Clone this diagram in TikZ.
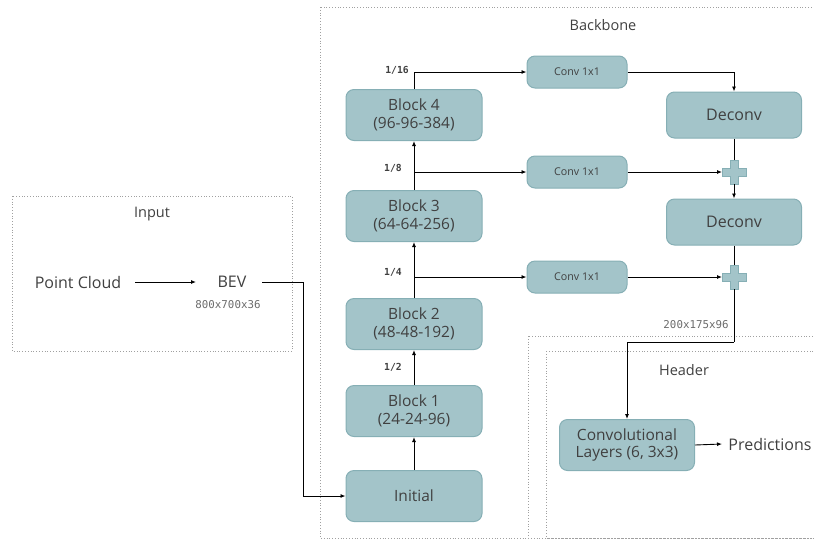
\documentclass[tikz,border=0pt]{standalone}
\usepackage{fontspec}
\setmainfont{Open Sans}
\newfontfamily\monofont{DejaVu Sans Mono}
\usetikzlibrary{arrows.meta,calc}
\definecolor{boxfill}{HTML}{A3C4C9}
\definecolor{boxline}{HTML}{86AFB5}
\definecolor{txt}{HTML}{404040}
\definecolor{framecol}{HTML}{A0A0A0}
\tikzset{
  blk/.style={draw=boxline, fill=boxfill, rounded corners=8pt, line width=1pt,
    text=txt, align=center, font=\fontsize{15.5}{17.5}\selectfont, inner sep=0pt},
  mainblk/.style={blk, minimum width=136pt, minimum height=51pt},
  convsmall/.style={blk, minimum width=100pt, minimum height=32pt, font=\fontsize{10.7}{12}\selectfont},
  deconvblk/.style={blk, minimum width=135pt, minimum height=46pt, font=\fontsize{16}{18}\selectfont},
  plain/.style={text=txt, font=\fontsize{16}{18}\selectfont, inner sep=0pt},
  framelabel/.style={text=txt, font=\fontsize{14.5}{16}\selectfont, inner sep=0pt},
  scalelabel/.style={font=\monofont\bfseries\fontsize{9.7}{11}\selectfont, text=txt, inner sep=0pt},
  dimlabel/.style={font=\monofont\fontsize{10.8}{12}\selectfont, text=black!58, inner sep=0pt},
  frame/.style={draw=framecol, dotted, line width=0.8pt},
  arr/.style={-{Latex[length=5pt,width=4pt]}, line width=0.9pt},
  link/.style={line width=0.9pt},
  plusnode/.style={minimum size=24pt, inner sep=0pt},
}
% plus-shaped adder drawn around a named node
\newcommand{\plusmark}[1]{%
  \path[fill=boxfill, draw=boxline, line width=0.8pt]
    ($(#1)+(-4,-12)$) -- ++(8,0) -- ++(0,8) -- ++(8,0) -- ++(0,8) -- ++(-8,0)
    -- ++(0,8) -- ++(-8,0) -- ++(0,-8) -- ++(-8,0) -- ++(0,-8) -- ++(8,0) -- cycle;}
\begin{document}
\begin{tikzpicture}[x=1pt, y=-1pt]
\useasboundingbox (0,0) rectangle (814,539);
\clip (0,0) rectangle (814,539);

% frames
\draw[frame] (12,196) rectangle (292,351);
\draw[frame] (320,7) rectangle (830,538);
\draw[frame] (528,336) rectangle (830,560);
\draw[frame] (546,351) rectangle (830,538);
\node[framelabel] at (152,214) {Input};
\node[framelabel] at (603,25) {Backbone};
\node[framelabel] at (684,370) {Header};

% input
\node[plain] (pc) at (78,282) {Point Cloud};
\node[plain] (bev) at (232,282) {BEV};
\node[dimlabel] (bevdim) at (228,305) {800x700x36};

% backbone blocks
\node[mainblk] (init) at (414,496) {Initial};
\node[mainblk] (b1) at (414,411) {Block 1\\(24-24-96)};
\node[mainblk] (b2) at (414,324) {Block 2\\(48-48-192)};
\node[mainblk] (b3) at (414,216) {Block 3\\(64-64-256)};
\node[mainblk] (b4) at (414,115) {Block 4\\(96-96-384)};

\node[convsmall] (c1) at (577,72) {Conv 1x1};
\node[convsmall] (c2) at (577,172) {Conv 1x1};
\node[convsmall] (c3) at (577,277) {Conv 1x1};

\node[deconvblk] (d1) at (734,115) {Deconv};
\node[deconvblk] (d2) at (734,222) {Deconv};

\node[plusnode] (p1) at (734,172) {};
\node[plusnode] (p2) at (734,277) {};
\plusmark{p1}
\plusmark{p2}

% header
\node[blk, minimum width=135pt, minimum height=51pt] (cl) at (627,445) {Convolutional\\Layers (6, 3x3)};
\node[plain] (pred) at (770,444) {Predictions};
\node[dimlabel] (featdim) at (696,325) {200x175x96};

% scale labels
\node[scalelabel] at (397,70) {1/16};
\node[scalelabel] at (393,168) {1/8};
\node[scalelabel] at (393,272) {1/4};
\node[scalelabel] at (393,367) {1/2};

% connectors
\coordinate (pcout) at (135,282);
\coordinate (bevin) at (196,282);
\coordinate (bevout) at (262,282);
\coordinate (bevturn) at (303,282);
\coordinate (s8) at (414,172);
\coordinate (s4) at (414,277);
\coordinate (outturn) at (734,342);
\coordinate (predin) at (722,444);

\draw[arr] (pcout) -- (bevin);
\draw[link] (bevout) -- (bevturn);
\draw[arr] (bevturn) |- (init.west);

\draw[arr] (init.north) -- (b1.south);
\draw[arr] (b1.north) -- (b2.south);
\draw[arr] (b2.north) -- (b3.south);
\draw[arr] (b3.north) -- (b4.south);

\draw[arr] (b4.north) |- (c1.west);
\draw[arr] (s8) -- (c2.west);
\draw[arr] (s4) -- (c3.west);

\draw[arr] (c1.east) -| (d1.north);
\draw[arr] (c2.east) -- ($(p1.center)+(-12,0)$);
\draw[arr] (c3.east) -- ($(p2.center)+(-12,0)$);
\draw[link] (d1.south) -- ($(p1.center)+(0,-12)$);
\draw[arr] ($(p1.center)+(0,12)$) -- (d2.north);
\draw[link] (d2.south) -- ($(p2.center)+(0,-12)$);
\draw[link] ($(p2.center)+(0,12)$) -- (outturn);
\draw[arr] (outturn) -| (cl.north);
\draw[arr] (cl.east) -- (predin);
\end{tikzpicture}
\end{document}
